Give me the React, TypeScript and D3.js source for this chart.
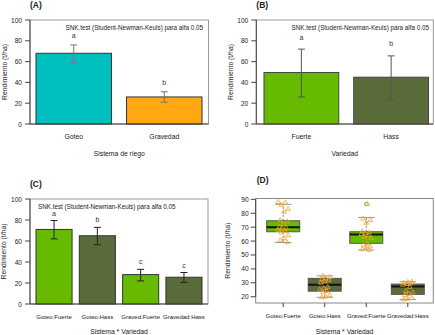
import React from "react";
import * as d3 from "d3";

const FONT = "'Liberation Sans', Arial, Helvetica, sans-serif";

// Panel A: Sistema de riego
const sistemaCats = ["Goteo", "Gravedad"];
const sistemaMeans = [68, 26];
const sistemaLow = [59, 21];
const sistemaHigh = [76, 31];
const sistemaLetters = ["a", "b"];

// Panel B: Variedad
const variedadCats = ["Fuerte", "Hass"];
const variedadMeans = [49.5, 45];
const variedadLow = [26, 23.5];
const variedadHigh = [72, 65.5];
const variedadLetters = ["a", "b"];

// Panel C: Sistema * Variedad
const interCats = ["Goteo:Fuerte", "Goteo:Hass", "Graved:Fuerte", "Gravedad:Hass"];
const interMeans = [71, 65, 28, 25.5];
const interLow = [62, 56.5, 22, 20.5];
const interHigh = [79.5, 73, 33, 30];
const interLetters = ["a", "b", "c", "c"];

const barTicks = [0, 20, 40, 60, 80, 100];

// Panel D: boxplots
const boxQ1 = [66.7, 24, 58.4, 21.7];
const boxMed = [69.9, 28.6, 64.8, 27.3];
const boxQ3 = [74.6, 33.2, 66.7, 29.1];
const boxLo = [59, 19.6, 53.6, 18];
const boxHi = [86.4, 35, 77, 30.8];
const boxOut: number[][] = [[], [], [86.6], []];
const pointsGF = [88, 87.5, 86, 83, 81, 75, 74, 72, 70, 69.5, 69, 68, 67, 66, 64, 62, 60.5, 59];
const pointsGH = [35, 34, 33, 32.5, 32, 31, 30, 27, 26, 25, 24, 23, 21, 20, 19.5];
const pointsGvF = [86.6, 76, 75, 73, 67, 66, 65.5, 65, 64, 63, 62, 58, 57, 56, 55, 54, 53.6];
const pointsGvH = [30.8, 30.5, 30, 29.5, 29, 28.5, 27, 24, 23, 22, 21, 19, 18.5, 18];
const boxTicks = [20, 30, 40, 50, 60, 70, 80, 90];

const TEAL = "#00BFBF";
const ORANGE = "#FFA812";
const GREEN = "#66BB00";
const OLIVE = "#5A6B3A";

type BarProps = {
  left: number; right: number; top: number; bottom: number;
  barL: number; barR: number;
  cats: string[]; means: number[]; low: number[]; high: number[]; letters: string[];
  colors: string[]; title: string; xTitle: string;
  snkX: number; snkAnchor: "start" | "end"; snkY: number;
  letterOff: number; errColor: string; barStroke: string; ylabX: number;
  xLabSize: number; xTitleOff: number;
};

function BarPanel(p: BarProps) {
  const x = d3.scaleBand<string>().domain(p.cats).range([p.barL, p.barR]).paddingInner(0.1667).paddingOuter(0);
  const y = d3.scaleLinear().domain([0, 100]).range([p.bottom, p.top]);
  const bw = x.bandwidth();
  const midX = (p.left + p.right) / 2;
  return (
    <g fontFamily={FONT}>
      <text x={p.left} y={p.top - 12} fontSize={8.5} fontWeight="bold" fill="#222">{p.title}</text>
      <rect x={p.left} y={p.top} width={p.right - p.left} height={p.bottom - p.top} fill="none" stroke="#999" strokeWidth={1} />
      {p.cats.map((c, i) => (
        <rect key={c} x={x(c)} y={y(p.means[i])} width={bw} height={y(0) - y(p.means[i])} fill={p.colors[i]} stroke={p.barStroke} strokeWidth={1} />
      ))}
      {p.cats.map((c, i) => {
        const cx = (x(c) as number) + bw / 2;
        return (
          <g key={c + "e"} stroke={p.errColor} strokeWidth={1}>
            <line x1={cx} x2={cx} y1={y(p.low[i])} y2={y(p.high[i])} />
            <line x1={cx - 3.5} x2={cx + 3.5} y1={y(p.low[i])} y2={y(p.low[i])} />
            <line x1={cx - 3.5} x2={cx + 3.5} y1={y(p.high[i])} y2={y(p.high[i])} />
          </g>
        );
      })}
      {p.cats.map((c, i) => (
        <text key={c + "l"} x={(x(c) as number) + bw / 2} y={y(p.high[i]) - p.letterOff} fontSize={7} textAnchor="middle" fill="#333">{p.letters[i]}</text>
      ))}
      <text x={p.snkX} y={p.snkY} fontSize={6.3} textAnchor={p.snkAnchor} fill="#222">SNK.test (Student-Newman-Keuls) para alfa 0.05</text>
      <line x1={p.left} x2={p.left} y1={y(0)} y2={y(100)} stroke="#444" />
      <line x1={p.left} x2={p.right} y1={p.bottom} y2={p.bottom} stroke="#444" />
      {barTicks.map((t) => (
        <g key={t}>
          <line x1={p.left - 5} x2={p.left} y1={y(t)} y2={y(t)} stroke="#444" />
          <text x={p.left - 8} y={y(t) + 2.5} fontSize={6.6} textAnchor="end" fill="#222">{t}</text>
        </g>
      ))}
      {p.cats.map((c) => (
        <text key={c + "x"} x={(x(c) as number) + bw / 2} y={p.bottom + 15} fontSize={p.xLabSize} textAnchor="middle" fill="#222">{c}</text>
      ))}
      <text x={midX} y={p.bottom + p.xTitleOff} fontSize={6.8} textAnchor="middle" fill="#222">{p.xTitle}</text>
      <text transform={`translate(${p.ylabX},${(p.top + p.bottom) / 2}) rotate(-90)`} fontSize={6.8} textAnchor="middle" fill="#222">Rendimiento (t/ha)</text>
    </g>
  );
}

function BoxPanel() {
  const left = 255.7, right = 433.3, top = 198.5, bottom = 303;
  const x = d3.scalePoint<string>().domain(interCats).range([left + 27.5, right - 25.5]);
  const y = d3.scaleLinear().domain([15.5, 90.6]).range([bottom, top]);
  const bw = 33;
  const fills = [GREEN, OLIVE, GREEN, OLIVE];
  const pts = [pointsGF, pointsGH, pointsGvF, pointsGvH];
  const tri = d3.symbol().type(d3.symbolTriangle).size(9);
  return (
    <g fontFamily={FONT}>
      <text x={left + 1} y={top - 16} fontSize={8.5} fontWeight="bold" fill="#222">(D)</text>
      <rect x={left} y={top} width={right - left} height={bottom - top} fill="none" stroke="#888" />
      {interCats.map((c, i) => {
        const cx = x(c) as number;
        return (
          <g key={c}>
            <line x1={cx} x2={cx} y1={y(boxQ3[i])} y2={y(boxHi[i])} stroke="#777" strokeDasharray="2,2" />
            <line x1={cx} x2={cx} y1={y(boxQ1[i])} y2={y(boxLo[i])} stroke="#777" strokeDasharray="2,2" />
            <line x1={cx - bw / 4} x2={cx + bw / 4} y1={y(boxHi[i])} y2={y(boxHi[i])} stroke="#999" />
            <line x1={cx - bw / 4} x2={cx + bw / 4} y1={y(boxLo[i])} y2={y(boxLo[i])} stroke="#999" />
            <rect x={cx - bw / 2} y={y(boxQ3[i])} width={bw} height={y(boxQ1[i]) - y(boxQ3[i])} fill={fills[i]} stroke="#555" />
            <line x1={cx - bw / 2} x2={cx + bw / 2} y1={y(boxMed[i])} y2={y(boxMed[i])} stroke="#111" strokeWidth={2} />
            {boxOut[i].map((o, k) => (
              <circle key={k} cx={cx} cy={y(o)} r={1.8} fill="none" stroke="#888" strokeWidth={0.8} />
            ))}
            {pts[i].map((v, k) => {
              const jit = (((k * 7 + i * 3) % 11) - 5) * 1.0;
              return (
                <path key={k} d={tri() as string} transform={`translate(${cx + jit},${y(v)})`} fill="none" stroke="#F2A22A" strokeWidth={0.8} />
              );
            })}
          </g>
        );
      })}
      <line x1={left} x2={left} y1={y(20)} y2={y(90)} stroke="#444" />
      {boxTicks.map((t) => (
        <g key={t}>
          <line x1={left - 5} x2={left} y1={y(t)} y2={y(t)} stroke="#444" />
          <text x={left - 7} y={y(t) + 2.5} fontSize={6.6} textAnchor="end" fill="#222">{t}</text>
        </g>
      ))}
      {interCats.map((c) => (
        <g key={c + "x"}>
          <line x1={x(c) as number} x2={x(c) as number} y1={bottom} y2={bottom + 4} stroke="#444" />
          <text x={x(c) as number} y={bottom + 14.5} fontSize={6} textAnchor="middle" fill="#222">{c}</text>
        </g>
      ))}
      <text x={(left + right) / 2} y={bottom + 30.5} fontSize={6.8} textAnchor="middle" fill="#222">Sistema * Variedad</text>
      <text transform={`translate(${230},${(top + bottom) / 2}) rotate(-90)`} fontSize={6.8} textAnchor="middle" fill="#222">Rendimiento (t/ha)</text>
    </g>
  );
}

export default function App() {
  return (
    <svg width={435} height={335} style={{ position: "absolute", left: 0, top: 0, background: "#fff" }}>
      <rect width={435} height={335} fill="#fff" />
      <BarPanel left={30} right={208.5} top={20} bottom={124} barL={36} barR={202}
        cats={sistemaCats} means={sistemaMeans} low={sistemaLow} high={sistemaHigh} letters={sistemaLetters}
        colors={[TEAL, ORANGE]} title="(A)" xTitle="Sistema de riego"
        snkX={203} snkAnchor="end" snkY={29.8} letterOff={7} errColor="#777" barStroke="#333" ylabX={6.5}
        xLabSize={6.8} xTitleOff={31.5} />
      <BarPanel left={256.3} right={433.3} top={20} bottom={124} barL={264} barR={428.5}
        cats={variedadCats} means={variedadMeans} low={variedadLow} high={variedadHigh} letters={variedadLetters}
        colors={[GREEN, OLIVE]} title="(B)" xTitle="Variedad"
        snkX={429} snkAnchor="end" snkY={29.8} letterOff={9.5} errColor="#555" barStroke="#444" ylabX={232.5}
        xLabSize={6.8} xTitleOff={31.5} />
      <BarPanel left={30} right={208} top={199} bottom={304} barL={36} barR={202}
        cats={interCats} means={interMeans} low={interLow} high={interHigh} letters={interLetters}
        colors={[GREEN, OLIVE, GREEN, OLIVE]} title="(C)" xTitle="Sistema * Variedad"
        snkX={38} snkAnchor="start" snkY={209.2} letterOff={5} errColor="#222" barStroke="#333" ylabX={6}
        xLabSize={6} xTitleOff={29.5} />
      <BoxPanel />
    </svg>
  );
}
